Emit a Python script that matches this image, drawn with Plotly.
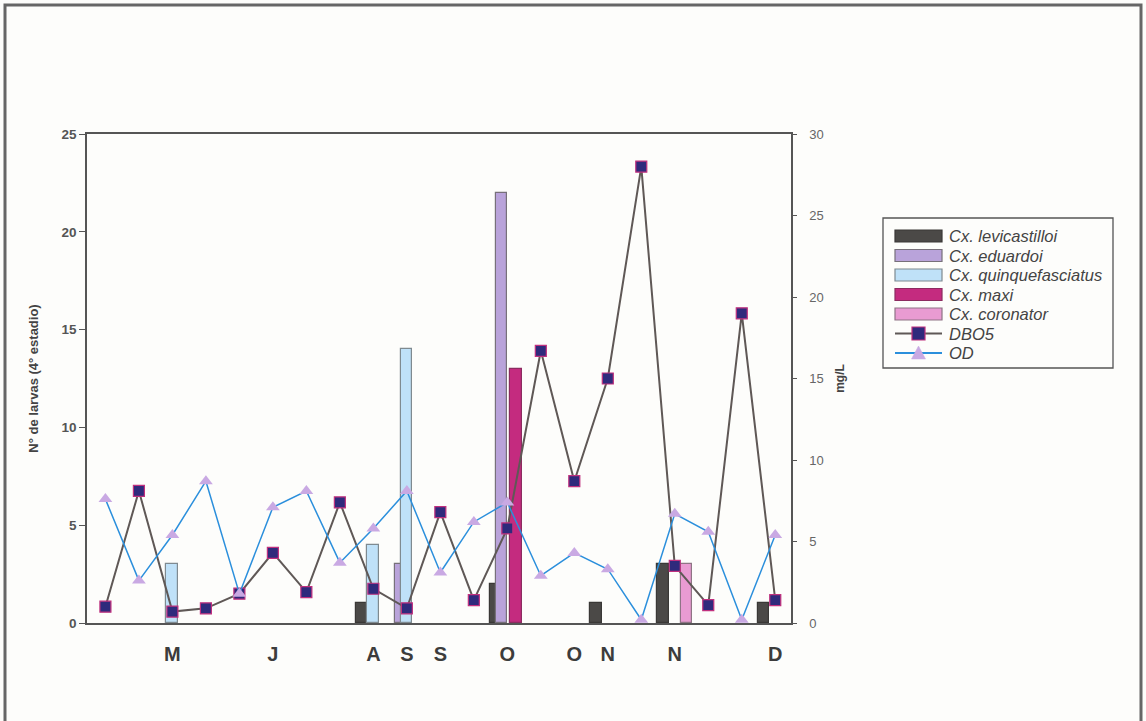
import plotly.graph_objects as go

# ---------------- data ----------------
samples = list(range(21))  # sampling dates (index)
tick_idx = [2, 5, 8, 9, 10, 12, 14, 15, 17, 20]
tick_labels = ["M", "J", "A", "S", "S", "O", "O", "N", "N", "D"]

levicastilloi = [0, 0, 0, 0, 0, 0, 0, 0, 1, 0, 0, 0, 2, 0, 0, 1, 0, 3, 0, 0, 1]
eduardoi      = [0, 0, 0, 0, 0, 0, 0, 0, 0, 3, 0, 0, 22, 0, 0, 0, 0, 0, 0, 0, 0]
quinquefasciatus = [0, 0, 3, 0, 0, 0, 0, 0, 4, 14, 0, 0, 0, 0, 0, 0, 0, 0, 0, 0, 0]
maxi          = [0, 0, 0, 0, 0, 0, 0, 0, 0, 0, 0, 0, 13, 0, 0, 0, 0, 0, 0, 0, 0]
coronator     = [0, 0, 0, 0, 0, 0, 0, 0, 0, 0, 0, 0, 0, 0, 0, 0, 0, 3, 0, 0, 0]

dbo5 = [1.0, 8.1, 0.7, 0.9, 1.8, 4.3, 1.9, 7.4, 2.1, 0.9, 6.8, 1.4, 5.8,
        16.7, 8.7, 15.0, 28.0, 3.5, 1.1, 19.0, 1.4]
od = [7.6, 2.6, 5.4, 8.7, 1.8, 7.1, 8.1, 3.7, 5.8, 8.1, 3.1, 6.2, 7.4,
      2.9, 4.3, 3.3, 0.2, 6.7, 5.6, 0.2, 5.4]

# ---------------- styling ----------------
W, H = 1146, 721
L, R, T, B = 87, 355, 134, 98
PW, PH = W - L - R, H - T - B
FONT = "Arial, Liberation Sans, sans-serif"
BG = "#fdfdfb"

def px_x(p):
    return (p - L) / PW

def px_y(p):
    return (H - B - p) / PH

bar_series = [
    ("Cx. levicastilloi", levicastilloi, "#4b4947", "#3a3836", -0.52),
    ("Cx. eduardoi", eduardoi, "#b9a3da", "#77707a", -0.35),
    ("Cx. quinquefasciatus", quinquefasciatus, "#bfe1f8", "#7f8a90", -0.18),
    ("Cx. maxi", maxi, "#c42b7f", "#8c2c60", 0.09),
    ("Cx. coronator", coronator, "#e99bd2", "#8f7485", 0.18),
]
BAR_W = 0.345

fig = go.Figure()
for name, vals, fill, edge, off in bar_series:
    xs = [s for s, v in zip(samples, vals) if v]
    ys = [v for v in vals if v]
    fig.add_trace(go.Bar(
        x=xs, y=ys, name=name, width=BAR_W, offset=off,
        marker=dict(color=fill, line=dict(color=edge, width=1.2)),
        yaxis="y", showlegend=False,
    ))

DBO_LINE = "#5f5856"
DBO_MARK = "#2f2a7c"
DBO_EDGE = "#c0307e"
OD_LINE = "#2b8fdc"
OD_MARK = "#c9a9e3"

fig.add_trace(go.Scatter(
    x=samples, y=dbo5, name="DBO5", mode="lines+markers", yaxis="y2",
    line=dict(color=DBO_LINE, width=2),
    marker=dict(symbol="square", size=11, color=DBO_MARK,
                line=dict(color=DBO_EDGE, width=1.2)),
    showlegend=False,
))
fig.add_trace(go.Scatter(
    x=samples, y=od, name="OD", mode="lines+markers", yaxis="y2",
    line=dict(color=OD_LINE, width=1.5),
    marker=dict(symbol="triangle-up", size=12, color=OD_MARK,
                line=dict(color=OD_MARK, width=0)),
    showlegend=False,
))

# ---------------- custom legend (shapes + text) ----------------
shapes = []
annotations = []
LX0, LX1, LY0, LY1 = 883, 1113, 218, 368
shapes.append(dict(type="rect", xref="paper", yref="paper",
                   x0=px_x(LX0), x1=px_x(LX1), y0=px_y(LY1), y1=px_y(LY0),
                   line=dict(color="#555555", width=1.3), fillcolor=BG, layer="above"))
SW0, SW1 = 895, 942
legend_names = [s[0] for s in bar_series] + ["DBO5", "OD"]
for i, nm in enumerate(legend_names):
    cy = 236 + 19.5 * i
    if i < 5:
        _, _, fill, edge, _ = bar_series[i]
        shapes.append(dict(type="rect", xref="paper", yref="paper",
                           x0=px_x(SW0), x1=px_x(SW1), y0=px_y(cy + 6), y1=px_y(cy - 6),
                           line=dict(color=edge, width=1.2), fillcolor=fill, layer="above"))
    else:
        lc = DBO_LINE if nm == "DBO5" else OD_LINE
        shapes.append(dict(type="line", xref="paper", yref="paper",
                           x0=px_x(SW0), x1=px_x(SW1), y0=px_y(cy), y1=px_y(cy),
                           line=dict(color=lc, width=2), layer="above"))
        mc = (SW0 + SW1) / 2
        if nm == "DBO5":
            shapes.append(dict(type="rect", xref="paper", yref="paper",
                               x0=px_x(mc - 6.5), x1=px_x(mc + 6.5),
                               y0=px_y(cy + 6.5), y1=px_y(cy - 6.5),
                               line=dict(color=DBO_EDGE, width=1.2), fillcolor=DBO_MARK,
                               layer="above"))
        else:
            path = "M {} {} L {} {} L {} {} Z".format(
                px_x(mc - 7), px_y(cy + 6), px_x(mc + 7), px_y(cy + 6), px_x(mc), px_y(cy - 7))
            shapes.append(dict(type="path", xref="paper", yref="paper", path=path,
                               line=dict(color=OD_MARK, width=0.5), fillcolor=OD_MARK,
                               layer="above"))
    annotations.append(dict(text=nm, xref="paper", yref="paper",
                            x=px_x(947), y=px_y(cy), xanchor="left", yanchor="middle",
                            showarrow=False,
                            font=dict(family=FONT, size=16.5, color="#444444", style="italic")))

# outer frame of the figure
shapes.append(dict(type="rect", xref="paper", yref="paper",
                   x0=px_x(5), x1=px_x(1141), y0=px_y(735), y1=px_y(5),
                   line=dict(color="#666666", width=3), layer="below"))

AX = "#555555"
fig.update_layout(
    width=W, height=H, autosize=False,
    margin=dict(l=L, r=R, t=T, b=B),
    paper_bgcolor=BG, plot_bgcolor=BG,
    barmode="overlay", bargap=0,
    showlegend=False,
    font=dict(family=FONT, color="#444444"),
    shapes=shapes, annotations=annotations,
    xaxis=dict(range=[-0.55, 20.47], tickvals=tick_idx, ticktext=tick_labels,
               showgrid=False, zeroline=False, showline=True, mirror=True,
               linecolor=AX, linewidth=1.5, ticks="", ticklabelstandoff=12,
               tickfont=dict(family=FONT, size=20, color="#3c3c3c", weight="bold")),
    yaxis=dict(range=[0, 25], dtick=5, showgrid=False, zeroline=False,
               showline=True, linecolor=AX, linewidth=1.5,
               ticks="outside", ticklen=6, tickwidth=1.3, tickcolor=AX,
               tickfont=dict(family=FONT, size=13.5, color="#555555", weight="bold"),
               title=dict(text="N° de larvas (4° estadio)", standoff=20,
                          font=dict(family=FONT, size=13, color="#444444", weight="bold"))),
    yaxis2=dict(range=[0, 30], dtick=5, overlaying="y", side="right",
                showgrid=False, zeroline=False, showline=True, linecolor=AX, linewidth=1.5,
                ticks="outside", ticklen=4, tickwidth=1.3, tickcolor=AX,
                ticklabelstandoff=10,
                tickfont=dict(family=FONT, size=13, color="#666666"),
                title=dict(text="mg/L", standoff=13,
                           font=dict(family=FONT, size=12, color="#444444", weight="bold"))),
)

fig.write_html("out.html", config={"displayModeBar": False},
               post_script="document.body.style.margin='0';document.body.style.overflow='hidden';")
